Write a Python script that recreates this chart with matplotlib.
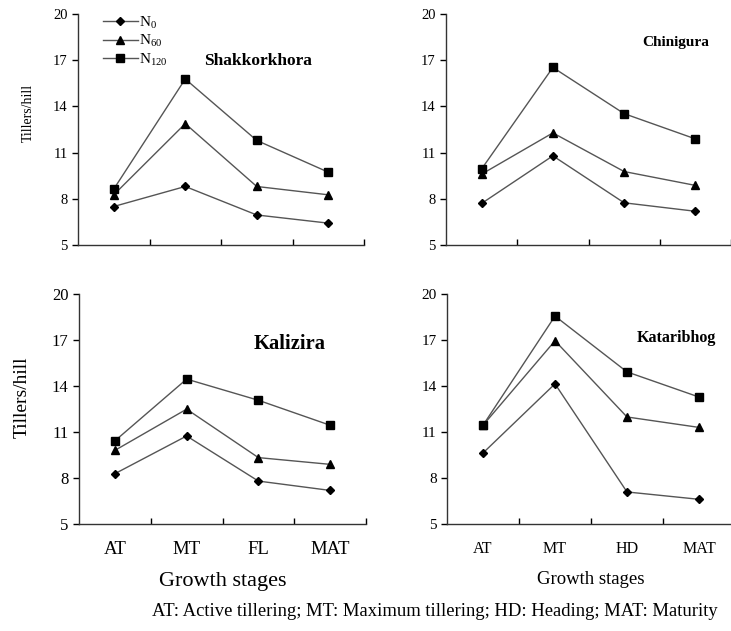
import matplotlib.pyplot as plt

plt.rcParams['font.family'] = ['Liberation Serif', 'DejaVu Serif']
plt.rcParams['mathtext.fontset'] = 'custom'
plt.rcParams['mathtext.rm'] = 'Liberation Serif'
plt.rcParams['mathtext.it'] = 'Liberation Serif'

# growth stage labels per panel
stages_kal = ['AT', 'MT', 'FL', 'MAT']
stages_kat = ['AT', 'MT', 'HD', 'MAT']

# tillers/hill: N0, N60, N120
shak_n0 = [7.5, 8.8, 6.95, 6.42]
shak_n60 = [8.26, 12.88, 8.8, 8.26]
shak_n120 = [8.63, 15.78, 11.79, 9.73]

chin_n0 = [7.7, 10.79, 7.74, 7.19]
chin_n60 = [9.6, 12.28, 9.77, 8.87]
chin_n120 = [9.94, 16.53, 13.53, 11.89]

kali_n0 = [8.28, 10.74, 7.8, 7.19]
kali_n60 = [9.8, 12.49, 9.33, 8.89]
kali_n120 = [10.42, 14.45, 13.07, 11.44]

kata_n0 = [9.63, 14.14, 7.09, 6.61]
kata_n60 = [11.44, 16.95, 11.98, 11.3]
kata_n120 = [11.44, 18.56, 14.92, 13.28]

yticks = [5, 8, 11, 14, 17, 20]
W, H = 731, 631

fig = plt.figure(figsize=(W / 100, H / 100), dpi=100)


def make_ax(x0, y0, x1, y1):
    # pixel box -> figure fraction
    return fig.add_axes([x0 / W, 1 - y1 / H, (x1 - x0) / W, (y1 - y0) / H])


def draw(ax, n0, n60, n120, title, tx, ty, tsize, labels=None, ysize=10.5, xsize=12):
    x = range(len(n0))
    ax.plot(x, n0, color='#555555', lw=1, marker='D', ms=4, mfc='black', mec='black', label=r'N$_{\mathrm{0}}$')
    ax.plot(x, n60, color='#555555', lw=1, marker='^', ms=6, mfc='black', mec='black', label=r'N$_{\mathrm{60}}$')
    ax.plot(x, n120, color='#555555', lw=1, marker='s', ms=5.5, mfc='black', mec='black', label=r'N$_{\mathrm{120}}$')
    ax.set_xlim(-0.5, 3.5)
    ax.set_ylim(5, 20)
    ax.set_yticks(yticks)
    ax.tick_params(axis='y', direction='out', length=4, labelsize=ysize, width=1)
    ax.set_xticks([0.5, 1.5, 2.5, 3.5])
    ax.set_xticks(list(x), minor=True)
    ax.tick_params(axis='x', which='major', direction='in', length=4, labelbottom=False, width=1)
    ax.tick_params(axis='x', which='minor', length=0, labelsize=xsize, pad=12)
    if labels:
        ax.set_xticklabels(labels, minor=True)
    else:
        ax.tick_params(axis='x', which='minor', labelbottom=False)
    for s in ['top', 'right']:
        ax.spines[s].set_visible(False)
    for s in ['left', 'bottom']:
        ax.spines[s].set_linewidth(1)
        ax.spines[s].set_color('#333333')
    ax.text(tx, ty, title, transform=ax.transAxes, fontsize=tsize, fontweight='bold')


ax1 = make_ax(78, 14, 364, 245)
draw(ax1, shak_n0, shak_n60, shak_n120, 'Shakkorkhora', 0.44, 0.78, 12.5)
ax1.set_ylabel('Tillers/hill', fontsize=10)
ax1.yaxis.set_label_coords(-0.15, 0.57)
ax1.legend(loc='upper left', bbox_to_anchor=(0.06, 1.03), frameon=False, fontsize=11,
           handlelength=2.3, labelspacing=0.15, borderpad=0, handletextpad=0.1)

ax2 = make_ax(446, 14, 731, 245)
draw(ax2, chin_n0, chin_n60, chin_n120, 'Chinigura', 0.69, 0.86, 11)

ax3 = make_ax(79, 294, 366, 524)
draw(ax3, kali_n0, kali_n60, kali_n120, 'Kalizira', 0.61, 0.76, 14.8, stages_kal, 12, 13.5)
ax3.set_ylabel('Tillers/hill', fontsize=14)
ax3.yaxis.set_label_coords(-0.17, 0.55)
ax3.set_xlabel('Growth stages', fontsize=16, labelpad=10)

ax4 = make_ax(447, 294, 735, 524)
draw(ax4, kata_n0, kata_n60, kata_n120, 'Kataribhog', 0.66, 0.79, 11.5, stages_kat, 11, 11.5)
ax4.set_xlabel('Growth stages', fontsize=13.5, labelpad=10)

fig.text(152 / W, 1 - 612 / H, 'AT: Active tillering; MT: Maximum tillering; HD: Heading; MAT: Maturity',
         fontsize=13.4, va='center', ha='left')

fig.savefig('out.png', dpi=100)
